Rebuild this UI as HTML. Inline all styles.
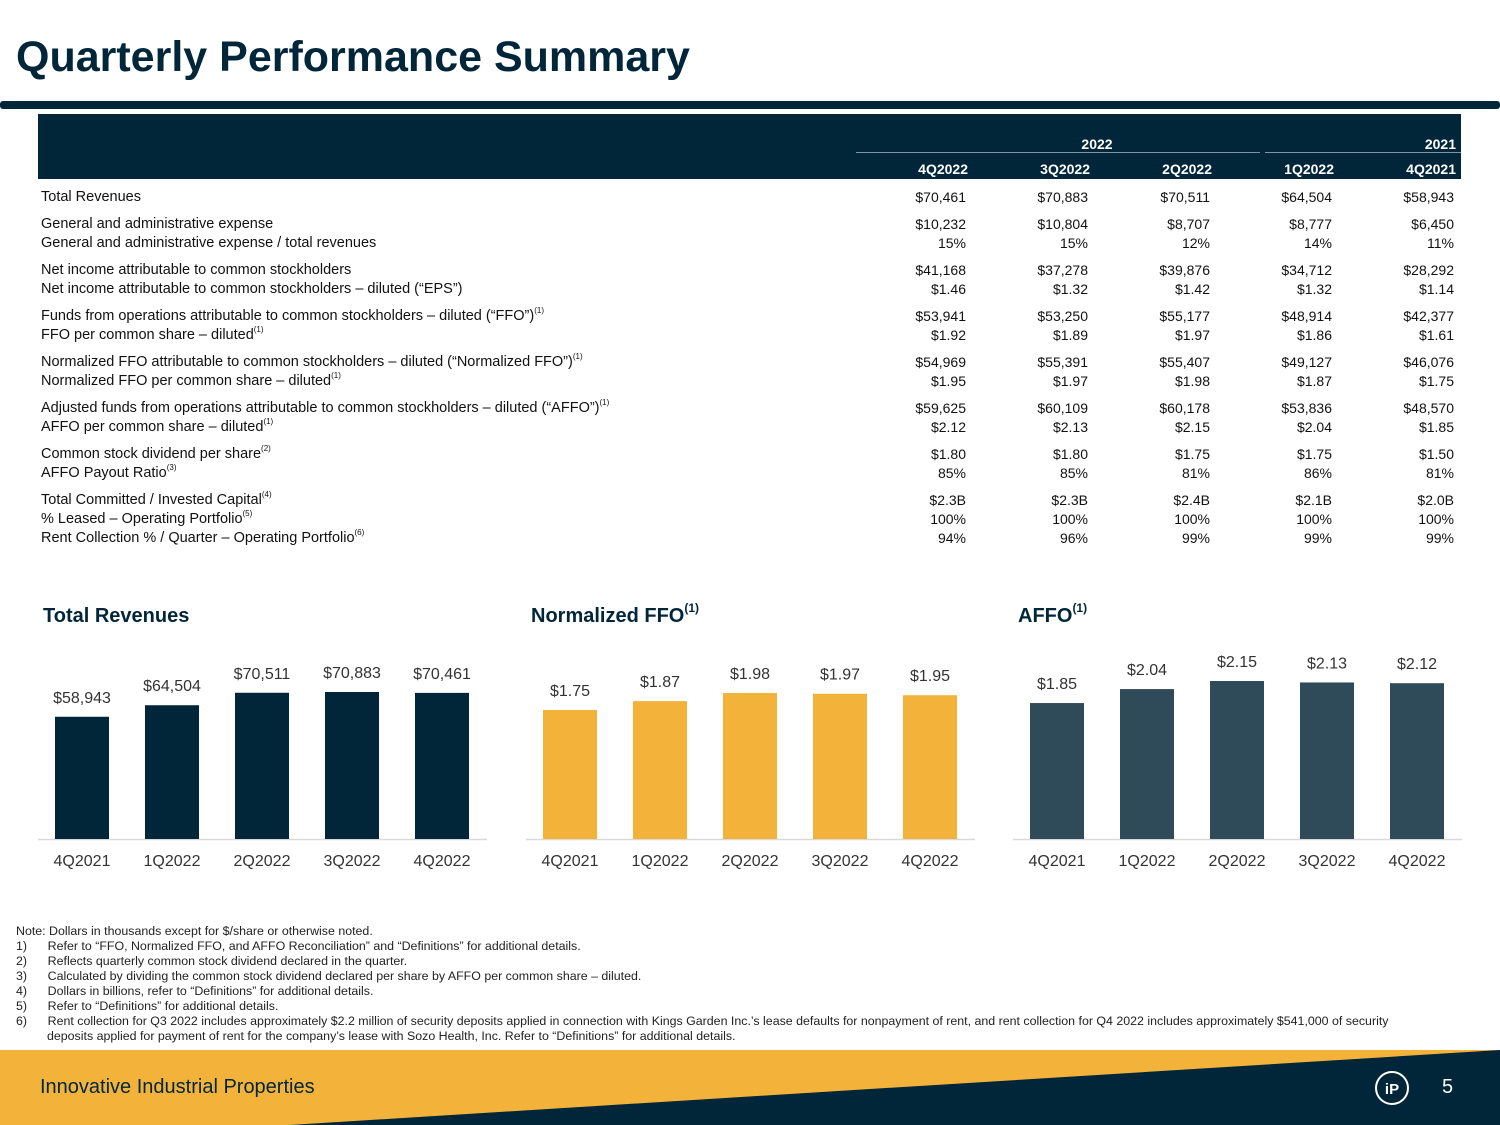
<!DOCTYPE html>
<html><head><meta charset="utf-8"><style>
body{margin:0;width:1500px;height:1125px;position:relative;overflow:hidden;background:#fff;font-family:"Liberation Sans",sans-serif;color:#111}
.a{position:absolute;white-space:nowrap}
.lbl{position:absolute;left:41px;font-size:14.5px;transform:translateY(-50%)}
.v{position:absolute;font-size:14px;text-align:right;width:110px;transform:translateY(-50%)}
sup{font-size:8px;vertical-align:top;position:relative;top:-2px}
.hd{position:absolute;color:#fff;font-weight:bold;font-size:14px;text-align:right;width:110px}
.ct{position:absolute;font-size:20px;font-weight:bold;color:#01263a}
</style></head><body>
<div class="a" style="left:16px;top:33px;font-size:43px;font-weight:bold;color:#01263a;letter-spacing:0px">Quarterly Performance Summary</div>
<div class="a" style="left:0;top:101px;width:1500px;height:8px;background:#01263a;border-radius:3px"></div>
<div class="a" style="left:38px;top:114px;width:1423px;height:65px;background:#01263a"></div>
<div class="a" style="left:856px;top:152px;width:404px;height:1px;background:#7f95a3"></div>
<div class="a" style="left:1265px;top:152px;width:196px;height:1px;background:#7f95a3"></div>
<div class="hd" style="left:1042px;top:136px;width:110px;text-align:center">2022</div>
<div class="hd" style="left:1346px;top:136px">2021</div>
<div id="tbl"></div>
<svg id="charts" class="a" style="left:0;top:0" width="1500" height="900"></svg>
<div class="ct" style="left:43px;top:605px">Total Revenues</div>
<div class="ct" style="left:531px;top:605px">Normalized FFO<sup style="font-size:12px;top:-4px">(1)</sup></div>
<div class="ct" style="left:1018px;top:605px">AFFO<sup style="font-size:12px;top:-4px">(1)</sup></div>
<div class="a" style="left:16px;top:924px;font-size:12.4px;line-height:15px;color:#222">
Note: Dollars in thousands except for $/share or otherwise noted.<br>
1)&nbsp;&nbsp;&nbsp;&nbsp;&nbsp;&nbsp;Refer to “FFO, Normalized FFO, and AFFO Reconciliation” and “Definitions” for additional details.<br>
2)&nbsp;&nbsp;&nbsp;&nbsp;&nbsp;&nbsp;Reflects quarterly common stock dividend declared in the quarter.<br>
3)&nbsp;&nbsp;&nbsp;&nbsp;&nbsp;&nbsp;Calculated by dividing the common stock dividend declared per share by AFFO per common share – diluted.<br>
4)&nbsp;&nbsp;&nbsp;&nbsp;&nbsp;&nbsp;Dollars in billions, refer to “Definitions” for additional details.<br>
5)&nbsp;&nbsp;&nbsp;&nbsp;&nbsp;&nbsp;Refer to “Definitions” for additional details.<br>
6)&nbsp;&nbsp;&nbsp;&nbsp;&nbsp;&nbsp;Rent collection for Q3 2022 includes approximately $2.2 million of security deposits applied in connection with Kings Garden Inc.’s lease defaults for nonpayment of rent, and rent collection for Q4 2022 includes approximately $541,000 of security<br>
&nbsp;&nbsp;&nbsp;&nbsp;&nbsp;&nbsp;&nbsp;&nbsp;&nbsp;deposits applied for payment of rent for the company’s lease with Sozo Health, Inc. Refer to “Definitions” for additional details.</div>
<svg class="a" style="left:0;top:1050px" width="1500" height="75">
<rect width="1500" height="75" fill="#f3b33a"/><polygon points="1500,0 1500,75 290,75" fill="#01263a"/>
<circle cx="1392" cy="38" r="16" fill="none" stroke="#fff" stroke-width="2"/>
<text x="1392" y="44" fill="#fff" font-size="15" font-weight="bold" text-anchor="middle" font-family="Liberation Sans">iP</text>
</svg>
<div class="a" style="left:40px;top:1076px;font-size:20px;color:#01263a">Innovative Industrial Properties</div>
<div class="a" style="left:1442px;top:1076px;font-size:20px;color:#fff">5</div>
<script>
const cols=["4Q2022","3Q2022","2Q2022","1Q2022","4Q2021"];
const rows=[
["Total Revenues",["$70,461","$70,883","$70,511","$64,504","$58,943"],197],
["General and administrative expense",["$10,232","$10,804","$8,707","$8,777","$6,450"],224],
["General and administrative expense / total revenues",["15%","15%","12%","14%","11%"],243],
["Net income attributable to common stockholders",["$41,168","$37,278","$39,876","$34,712","$28,292"],270],
["Net income attributable to common stockholders – diluted (“EPS”)",["$1.46","$1.32","$1.42","$1.32","$1.14"],289],
["Funds from operations attributable to common stockholders – diluted (“FFO”)<sup>(1)</sup>",["$53,941","$53,250","$55,177","$48,914","$42,377"],316],
["FFO per common share – diluted<sup>(1)</sup>",["$1.92","$1.89","$1.97","$1.86","$1.61"],335],
["Normalized FFO attributable to common stockholders – diluted (“Normalized FFO”)<sup>(1)</sup>",["$54,969","$55,391","$55,407","$49,127","$46,076"],362],
["Normalized FFO per common share – diluted<sup>(1)</sup>",["$1.95","$1.97","$1.98","$1.87","$1.75"],381],
["Adjusted funds from operations attributable to common stockholders – diluted (“AFFO”)<sup>(1)</sup>",["$59,625","$60,109","$60,178","$53,836","$48,570"],408],
["AFFO per common share – diluted<sup>(1)</sup>",["$2.12","$2.13","$2.15","$2.04","$1.85"],427],
["Common stock dividend per share<sup>(2)</sup>",["$1.80","$1.80","$1.75","$1.75","$1.50"],454],
["AFFO Payout Ratio<sup>(3)</sup>",["85%","85%","81%","86%","81%"],473],
["Total Committed / Invested Capital<sup>(4)</sup>",["$2.3B","$2.3B","$2.4B","$2.1B","$2.0B"],500],
["% Leased – Operating Portfolio<sup>(5)</sup>",["100%","100%","100%","100%","100%"],519],
["Rent Collection % / Quarter – Operating Portfolio<sup>(6)</sup>",["94%","96%","99%","99%","99%"],538]];
const colRight=[968,1090,1212,1334,1456];
const tbl=document.getElementById('tbl');
cols.forEach((c,i)=>{const d=document.createElement('div');d.className='hd';d.style.left=(colRight[i]-110)+'px';d.style.top='161px';d.textContent=c;


tbl.appendChild(d);});
rows.forEach(r=>{const l=document.createElement('div');l.className='lbl';l.style.top=r[2]+'px';l.innerHTML=r[0];


tbl.appendChild(l);
r[1].forEach((v,i)=>{const d=document.createElement('div');d.className='v';d.style.left=(colRight[i]-112)+'px';d.style.top=r[2]+'px';d.textContent=v;


tbl.appendChild(d);});});

const quarters=["4Q2021","1Q2022","2Q2022","3Q2022","4Q2022"];
const revenue=[58943,64504,70511,70883,70461];
const revenueLabels=["$58,943","$64,504","$70,511","$70,883","$70,461"];
const normFFO=[1.75,1.87,1.98,1.97,1.95];
const normFFOLabels=["$1.75","$1.87","$1.98","$1.97","$1.95"];
const affo=[1.85,2.04,2.15,2.13,2.12];
const affoLabels=["$1.85","$2.04","$2.15","$2.13","$2.12"];
const ns="http://www.w3.org/2000/svg";
const svg=document.getElementById('charts');
function mk(t,a){const e=document.createElementNS(ns,t);for(const k in a)e.setAttribute(k,a[k]);return e;}
function chart(x0,vals,labs,scale,color,nm){
  const base=839,step=90,bw=54;
  const yScale=v=>base-v*scale;
  const xScale=i=>x0+44+i*step;
  const ax=mk('line',{x1:x0,x2:x0+449,y1:base+0.5,y2:base+0.5,stroke:'#d9d9d9','stroke-width':1.5});
  
  
  svg.appendChild(ax);
  vals.forEach((v,i)=>{
    const y=yScale(v),cx=xScale(i);
    const r=mk('rect',{x:cx-bw/2,y:y,width:bw,height:base-y,fill:color});
    
    
    svg.appendChild(r);
    const t=mk('text',{x:cx,y:y-14,'text-anchor':'middle','font-size':16,fill:'#333','font-family':'Liberation Sans'});
    t.textContent=labs[i];
    
    
    svg.appendChild(t);
    const q=mk('text',{x:cx,y:866,'text-anchor':'middle','font-size':16,fill:'#333','font-family':'Liberation Sans'});
    q.textContent=quarters[i];
    
    
    svg.appendChild(q);
  });
}
chart(38,revenue,revenueLabels,147/70883,'#01263a','revenue');
chart(526,normFFO,normFFOLabels,146/1.98,'#f3b33a','ffo');
chart(1013,affo,affoLabels,158/2.15,'#2f4a58','affo');
</script>
</body></html>
